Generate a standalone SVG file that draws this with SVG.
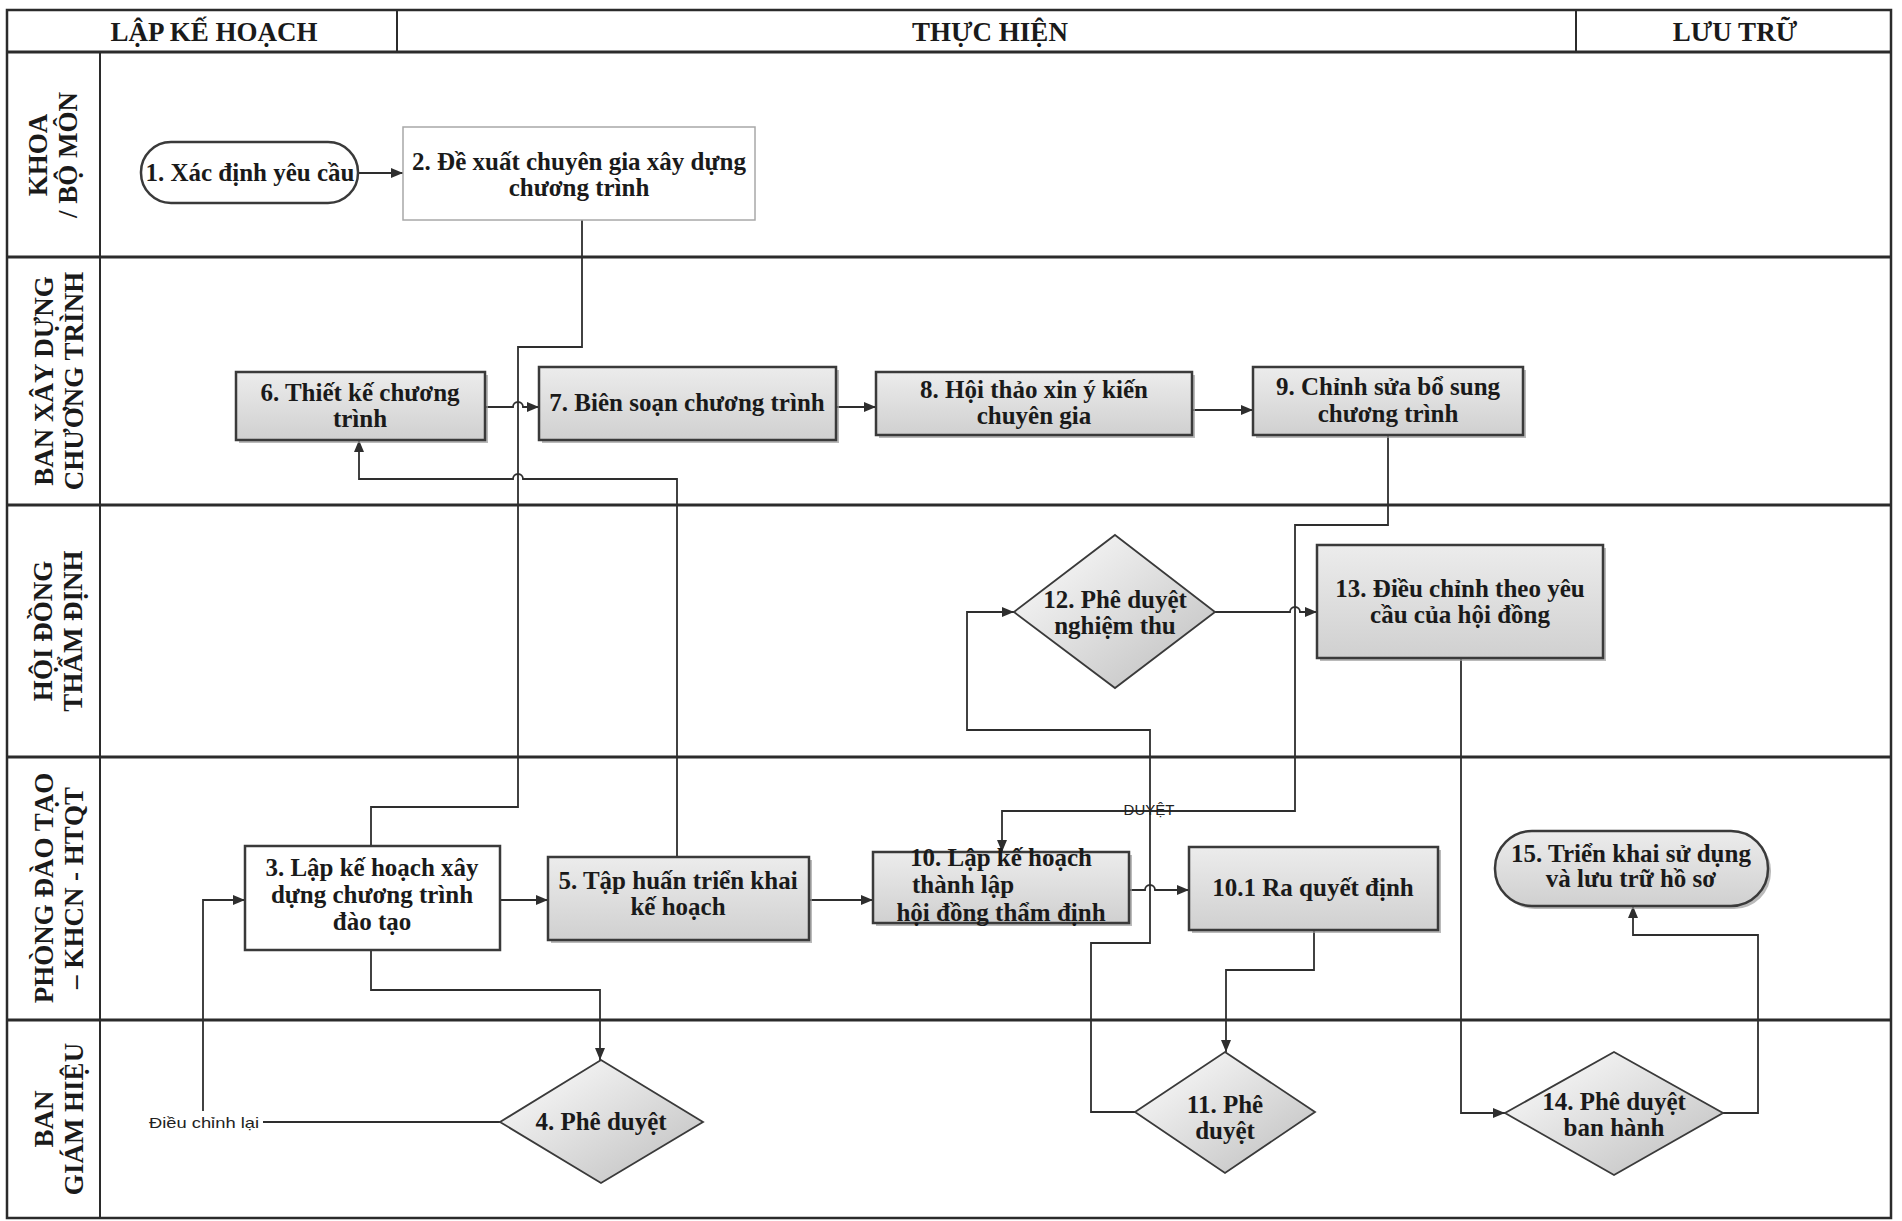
<svg xmlns="http://www.w3.org/2000/svg" width="1902" height="1221" viewBox="0 0 1902 1221">
<style>
.frame{fill:none;stroke:#2b2b2b;stroke-width:2.5}
.lane{stroke:#2b2b2b;stroke-width:3;fill:none}
.vdiv{stroke:#2b2b2b;stroke-width:2;fill:none}
.hdr{font-family:"Liberation Serif","Times New Roman",serif;font-weight:bold;font-size:27px;fill:#1a1a1a;text-anchor:middle}
.lbl{font-family:"Liberation Serif","Times New Roman",serif;font-weight:bold;font-size:27px;fill:#1a1a1a;text-anchor:middle}
.t{font-family:"Liberation Serif","Times New Roman",serif;font-weight:bold;font-size:25px;fill:#1a1a1a;text-anchor:middle}
.box{fill:url(#gBox);stroke:#3a3a3a;stroke-width:2.5}
.wbox{fill:#ffffff;stroke:#3a3a3a;stroke-width:2.5}
.shadow{fill:#9c9c9c;opacity:0.7}
.dia{fill:url(#gDia);stroke:#3a3a3a;stroke-width:1.8}
.conn{fill:none;stroke:#2e2e2e;stroke-width:1.8}
.arr{marker-end:url(#ah)}
.small{font-family:"Liberation Sans",Arial,sans-serif;font-size:15px;fill:#222}
</style>
<defs>
<linearGradient id="gBox" x1="0" y1="0" x2="0" y2="1">
<stop offset="0" stop-color="#ececec"/>
<stop offset="1" stop-color="#d0d0d0"/>
</linearGradient>
<linearGradient id="gDia" x1="0" y1="0" x2="1" y2="1">
<stop offset="0" stop-color="#ffffff"/>
<stop offset="1" stop-color="#bdbdbd"/>
</linearGradient>
<marker id="ah" viewBox="0 0 12 10" refX="12" refY="5" markerWidth="12" markerHeight="10" markerUnits="userSpaceOnUse" orient="auto">
<path d="M0,0 L12,5 L0,10 z" fill="#2e2e2e"/>
</marker>
</defs>
<rect width="1902" height="1221" fill="#ffffff"/>

<g id="swimlanes">
<rect class="frame" x="7" y="10" width="1884" height="1208"/>
<line class="lane" x1="7" y1="52" x2="1891" y2="52"/>
<line class="vdiv" x1="397" y1="10" x2="397" y2="52"/>
<line class="vdiv" x1="1576" y1="10" x2="1576" y2="52"/>
<line class="vdiv" x1="100" y1="52" x2="100" y2="1218"/>
<line class="lane" x1="7" y1="257" x2="1891" y2="257"/>
<line class="lane" x1="7" y1="505" x2="1891" y2="505"/>
<line class="lane" x1="7" y1="757" x2="1891" y2="757"/>
<line class="lane" x1="7" y1="1020" x2="1891" y2="1020"/>
<text class="hdr" x="214" y="41">LẬP KẾ HOẠCH</text>
<text class="hdr" x="990" y="41">THỰC HIỆN</text>
<text class="hdr" x="1735" y="41">LƯU TRỮ</text>
<g transform="translate(47,155) rotate(-90)"><text class="lbl" x="0" y="0">KHOA</text><text class="lbl" x="0" y="30">/ BỘ MÔN</text></g>
<g transform="translate(53,381) rotate(-90)"><text class="lbl" x="0" y="0">BAN XÂY DỰNG</text><text class="lbl" x="0" y="30">CHƯƠNG TRÌNH</text></g>
<g transform="translate(52,631) rotate(-90)"><text class="lbl" x="0" y="0">HỘI ĐỒNG</text><text class="lbl" x="0" y="30">THẨM ĐỊNH</text></g>
<g transform="translate(53,888) rotate(-90)"><text class="lbl" x="0" y="0">PHÒNG ĐÀO TẠO</text><text class="lbl" x="0" y="30">– KHCN - HTQT</text></g>
<g transform="translate(53,1119) rotate(-90)"><text class="lbl" x="0" y="0">BAN</text><text class="lbl" x="0" y="30">GIÁM HIỆU</text></g>
</g>

<g id="connectors">
<path class="conn arr" d="M358,173 H403"/>
<path class="conn" d="M582,220 V347 H518 V807 H371 V846"/>
<path class="conn arr" d="M500,900 H548"/>
<path class="conn arr" d="M371,950 V990 H600 V1060"/>
<path class="conn arr" d="M500,1122 H203 V900 H245"/>
<path class="conn arr" d="M677,857 V479 H523 A5,5 0 0 0 513,479 H359 V440"/>
<path class="conn arr" d="M485,407 H513 A5,5 0 0 1 523,407 H539"/>
<path class="conn arr" d="M836,407 H876"/>
<path class="conn arr" d="M1192,410 H1253"/>
<path class="conn arr" d="M1388,435 V525 H1295 V811 H1002 V852"/>
<path class="conn arr" d="M809,900 H873"/>
<path class="conn arr" d="M1129,890 H1145 A5,5 0 0 1 1155,890 H1189"/>
<path class="conn arr" d="M1314,930 V970 H1226 V1052"/>
<path class="conn arr" d="M1135,1112 H1091 V943 H1150 V730 H967 V612 H1014"/>
<path class="conn arr" d="M1215,612 H1290 A5,5 0 0 1 1300,612 H1317"/>
<path class="conn arr" d="M1461,658 V1113 H1505"/>
<path class="conn arr" d="M1723,1113 H1758 V935 H1633 V906"/>
<rect x="146" y="1111" width="117" height="22" fill="#ffffff"/>
<text class="small" x="149" y="1128" font-size="17" textLength="110" lengthAdjust="spacingAndGlyphs">Điều chỉnh lại</text>
<text class="small" x="1149" y="815" text-anchor="middle" font-size="14">DUYỆT</text>
</g>

<g id="n1"><rect class="wbox" x="141" y="142" width="217" height="61" rx="30" ry="30" stroke-width="2"/><text class="t" x="250" y="181">1. Xác định yêu cầu</text></g>
<g id="n2"><rect x="403" y="127" width="352" height="93" fill="#ffffff" stroke="#a8a8a8" stroke-width="1.5"/><text class="t" x="579" y="170">2. Đề xuất chuyên gia xây dựng</text><text class="t" x="579" y="196">chương trình</text></g>
<g id="n3"><rect class="wbox" x="245" y="846" width="255" height="104"/><text class="t" x="372" y="876">3. Lập kế hoạch xây</text><text class="t" x="372" y="903">dựng chương trình</text><text class="t" x="372" y="930">đào tạo</text></g>
<g id="n4"><polygon class="dia" points="601,1060 703,1122 601,1183 500,1122"/><text class="t" x="601" y="1130">4. Phê duyệt</text></g>
<g id="n5"><rect class="shadow" x="551" y="860" width="261" height="83"/><rect class="box" x="548" y="857" width="261" height="83"/><text class="t" x="678" y="889">5. Tập huấn triển khai</text><text class="t" x="678" y="915">kế hoạch</text></g>
<g id="n6"><rect class="shadow" x="239" y="375" width="249" height="68"/><rect class="box" x="236" y="372" width="249" height="68"/><text class="t" x="360" y="401">6. Thiết kế chương</text><text class="t" x="360" y="427">trình</text></g>
<g id="n7"><rect class="shadow" x="542" y="370" width="297" height="73"/><rect class="box" x="539" y="367" width="297" height="73"/><text class="t" x="687" y="411">7. Biên soạn chương trình</text></g>
<g id="n8"><rect class="shadow" x="879" y="375" width="316" height="63"/><rect class="box" x="876" y="372" width="316" height="63"/><text class="t" x="1034" y="398">8. Hội thảo xin ý kiến</text><text class="t" x="1034" y="424">chuyên gia</text></g>
<g id="n9"><rect class="shadow" x="1256" y="370" width="270" height="68"/><rect class="box" x="1253" y="367" width="270" height="68"/><text class="t" x="1388" y="395">9. Chỉnh sửa bổ sung</text><text class="t" x="1388" y="422">chương trình</text></g>
<g id="n10"><rect class="shadow" x="876" y="855" width="256" height="71"/><rect class="box" x="873" y="852" width="256" height="71"/><text class="t" x="1001" y="866">10. Lập kế hoạch</text><text class="t" x="912" y="893" style="text-anchor:start">thành lập</text><text class="t" x="1001" y="921">hội đồng thẩm định</text></g>
<g id="n10-1"><rect class="shadow" x="1192" y="850" width="249" height="83"/><rect class="box" x="1189" y="847" width="249" height="83"/><text class="t" x="1313" y="896">10.1 Ra quyết định</text></g>
<g id="n11"><polygon class="dia" points="1225,1052 1315,1112 1225,1173 1135,1112"/><text class="t" x="1225" y="1113">11. Phê</text><text class="t" x="1225" y="1139">duyệt</text></g>
<g id="n12"><polygon class="dia" points="1115,535 1215,612 1115,688 1014,612"/><text class="t" x="1115" y="608">12. Phê duyệt</text><text class="t" x="1115" y="634">nghiệm thu</text></g>
<g id="n13"><rect class="shadow" x="1320" y="548" width="286" height="113"/><rect class="box" x="1317" y="545" width="286" height="113"/><text class="t" x="1460" y="597">13. Điều chỉnh theo yêu</text><text class="t" x="1460" y="623">cầu của hội đồng</text></g>
<g id="n14"><polygon class="dia" points="1614,1052 1723,1113 1614,1175 1505,1113"/><text class="t" x="1614" y="1110">14. Phê duyệt</text><text class="t" x="1614" y="1136">ban hành</text></g>
<g id="n15"><rect class="shadow" x="1498" y="834" width="273" height="75" rx="37" ry="37"/><rect class="box" x="1495" y="831" width="273" height="75" rx="37" ry="37" stroke-width="2"/><text class="t" x="1631" y="862">15. Triển khai sử dụng</text><text class="t" x="1631" y="887">và lưu trữ hồ sơ</text></g>
</svg>
